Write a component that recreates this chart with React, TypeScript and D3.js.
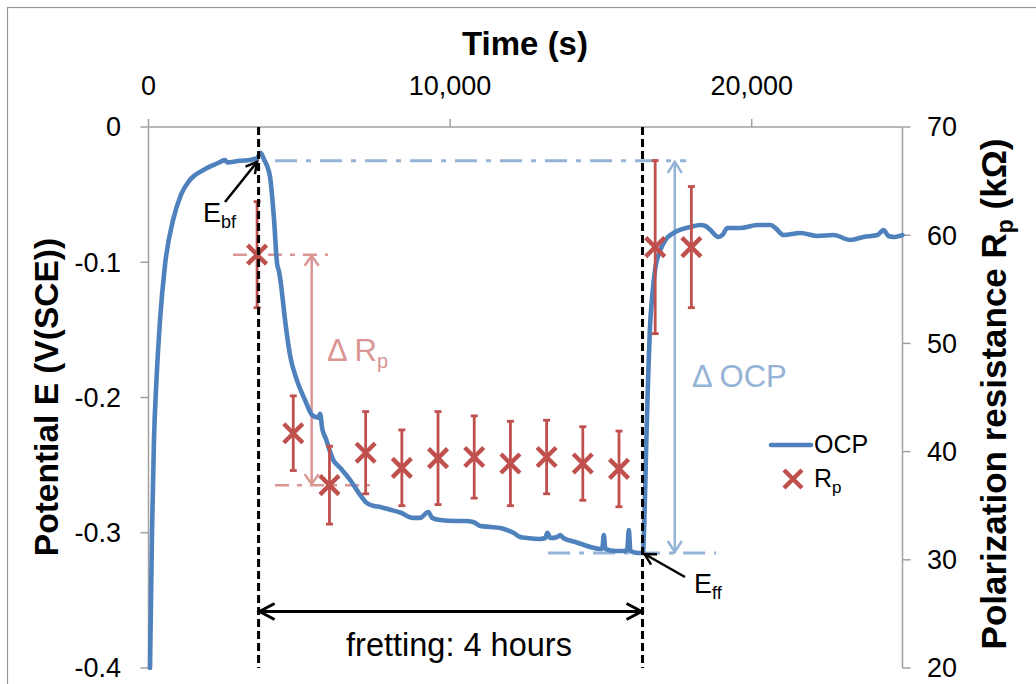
import React from "react";
import * as d3 from "d3";

// ---------- data ----------
const X_TICKS = [0, 10000, 20000];
const E_TICKS = [0, -0.1, -0.2, -0.3, -0.4];
const R_TICKS = [70, 60, 50, 40, 30, 20];

const OCP_T = [
  50, 83, 116, 182, 265, 382, 547, 813, 1078, 1377, 1808, 2273, 2538, 2620, 2704, 3036, 3368, 3600, 3716, 3832,
  4031, 4164, 4263, 4330, 4396, 4529, 4695, 4917, 5193, 5425, 5624, 5690, 5757, 5890, 6122, 6354, 6686, 7018,
  7240, 7449, 7681, 8013, 8345, 8776, 9009, 9274, 9407, 9673, 10170, 10502, 10768, 11000, 11332, 11664, 12095,
  12327, 12559, 12991, 13157, 13223, 13323, 13555, 13655, 13754, 14152, 14650, 14981, 15048, 15097, 15147, 15479,
  15811, 15877, 15927, 15976, 16241, 16391, 16441, 16507, 16574, 16623, 16706, 16806, 16972, 17138, 17403, 17967,
  18299, 18465, 18631, 18897, 19029, 19195, 19626, 20190, 20621, 20787, 21053, 21617, 22181, 22712, 23276, 23707,
  24172, 24371, 24537, 24703, 25000,
];
const OCP_E = [
  -0.4, -0.35, -0.3, -0.231, -0.187, -0.143, -0.102, -0.069, -0.05, -0.039, -0.032, -0.027, -0.0245, -0.0262, -0.026,
  -0.025, -0.0244, -0.023, -0.019, -0.024, -0.037, -0.069, -0.101, -0.107, -0.117, -0.143, -0.169, -0.187, -0.202,
  -0.213, -0.215, -0.212, -0.2226, -0.231, -0.246, -0.252, -0.261, -0.272, -0.278, -0.28, -0.281, -0.283, -0.285,
  -0.289, -0.289, -0.2847, -0.289, -0.2906, -0.2913, -0.2913, -0.292, -0.295, -0.2957, -0.2965, -0.3, -0.3031,
  -0.3039, -0.3046, -0.3039, -0.3, -0.3039, -0.3031, -0.3017, -0.3039, -0.3068, -0.3105, -0.312, -0.3113, -0.3017,
  -0.312, -0.3135, -0.3135, -0.3113, -0.298, -0.3135, -0.315, -0.315, -0.2906, -0.231, -0.1797, -0.15, -0.124,
  -0.104, -0.091, -0.0835, -0.0784, -0.0739, -0.0725, -0.0732, -0.0762, -0.0813, -0.0799, -0.0747, -0.0747, -0.0725,
  -0.0725, -0.0747, -0.0799, -0.0784, -0.0806, -0.0799, -0.0835, -0.0813, -0.0799, -0.0762, -0.0806, -0.0813, -0.0799,
];

const RP_T = [3600, 4800, 6000, 7200, 8400, 9600, 10800, 12000, 13200, 14400, 15600, 16800, 18000];
const RP_V = [58.2, 41.7, 36.9, 39.9, 38.5, 39.4, 39.5, 38.9, 39.5, 38.9, 38.4, 58.9, 58.9];
const RP_ERR = [4.9, 3.45, 3.6, 3.8, 3.5, 4.3, 3.8, 3.9, 3.4, 3.4, 3.5, 8.0, 5.6];

// annotation anchors (data units)
const FRET_START = 3650;
const FRET_END = 16380;
const E_BEFORE = -0.025;
const E_AFTER = -0.315;

// ---------- styles ----------
const FONT = "'Liberation Sans', Arial, sans-serif";
const BLUE = "#4f81bd";
const RED = "#c0504d";
const LIGHT_BLUE = "#95b3d7";
const PINK = "#d99694";
const AXIS = "#a0a0a0";

const chevron = (tx: number, ty: number, dx: number, dy: number, L: number, W: number) => {
  const n = Math.hypot(dx, dy);
  const ux = dx / n, uy = dy / n;
  const bx = tx - ux * L, by = ty - uy * L;
  const px = -uy, py = ux;
  return `M${bx + px * W},${by + py * W}L${tx},${ty}L${bx - px * W},${by - py * W}`;
};

export default function App() {
  const x = d3.scaleLinear().domain([0, 25000]).range([148.5, 902.5]);
  const yE = d3.scaleLinear().domain([-0.4, 0]).range([668, 127]);
  const yR = d3.scaleLinear().domain([20, 70]).range([668, 127]);
  const left = x(0), right = x(25000), top = yE(0), bottom = yE(-0.4);

  const ocp = OCP_T.map((t, i) => [t, OCP_E[i]] as [number, number]);
  const line = d3
    .line<[number, number]>()
    .x((d) => x(d[0]))
    .y((d) => yE(d[1]))
    .curve(d3.curveMonotoneX);
  const fmtX = d3.format(",");
  const fmtE = (v: number) => (v === 0 ? "0" : v.toFixed(1));

  const xs = x(FRET_START), xe = x(FRET_END);
  const yBf = yE(E_BEFORE), yFf = yE(E_AFTER);
  const yR0 = yR(RP_V[0]), yR2 = yR(RP_V[2]);
  const xOcpArrow = x(17450);
  const xRpArrow = x(5410);
  const fretY = 611.5;

  const xMark = (cx: number, cy: number, s: number) => `M${cx - s},${cy - s}L${cx + s},${cy + s}M${cx - s},${cy + s}L${cx + s},${cy - s}`;

  return (
    <svg
      width={1036}
      height={684}
      style={{ position: "absolute", left: 0, top: 0, background: "#fff" }}
      fontFamily={FONT}
    >
      <rect x={7.5} y={7.5} width={1100} height={800} fill="#fff" stroke="#999" strokeWidth={1.2} />

      {/* title */}
      <text x={525} y={55} textAnchor="middle" fontSize={33} fontWeight="bold">Time (s)</text>

      {/* top axis */}
      <line x1={left} x2={right} y1={top} y2={top} stroke={AXIS} strokeWidth={1.5} />
      {X_TICKS.map((t) => (
        <g key={t}>
          <line x1={x(t)} x2={x(t)} y1={top} y2={top - 8} stroke={AXIS} strokeWidth={1.5} />
          <text x={x(t)} y={95} textAnchor="middle" fontSize={27}>{fmtX(t)}</text>
        </g>
      ))}

      {/* left axis */}
      <line x1={left} x2={left} y1={top} y2={bottom} stroke={AXIS} strokeWidth={1.5} />
      {E_TICKS.map((v) => (
        <g key={v}>
          <line x1={left - 8} x2={left} y1={yE(v)} y2={yE(v)} stroke={AXIS} strokeWidth={1.5} />
          <text x={121} y={yE(v)} dy="0.35em" textAnchor="end" fontSize={27}>{fmtE(v)}</text>
        </g>
      ))}
      <text transform={`translate(58,397) rotate(-90)`} textAnchor="middle" fontSize={33.5} fontWeight="bold">
        Potential E (V(SCE))
      </text>

      {/* right axis */}
      <line x1={right} x2={right} y1={top} y2={bottom} stroke={AXIS} strokeWidth={1.5} />
      {R_TICKS.map((v) => (
        <g key={v}>
          <line x1={right} x2={right + 8} y1={yR(v)} y2={yR(v)} stroke={AXIS} strokeWidth={1.5} />
          <text x={927} y={yR(v)} dy="0.35em" textAnchor="start" fontSize={27}>{v}</text>
        </g>
      ))}
      <text transform={`translate(1006,394) rotate(-90)`} textAnchor="middle" fontSize={35} fontWeight="bold">
        Polarization resistance R<tspan fontSize={23} dy={7}>p</tspan><tspan dy={-7}> (kΩ)</tspan>
      </text>

      {/* guide lines */}
      <line x1={x(4195)} x2={x(17830)} y1={yBf} y2={yBf} stroke={LIGHT_BLUE} strokeWidth={3} strokeDasharray="22,9,5,9" />
      <line x1={x(13250)} x2={x(18820)} y1={yFf} y2={yFf} stroke={LIGHT_BLUE} strokeWidth={3} strokeDasharray="22,9,5,9" />
      <line x1={x(2800)} x2={x(5950)} y1={yR0} y2={yR0} stroke={PINK} strokeWidth={2.5} strokeDasharray="14,8,5,8" />
      <line x1={x(4195)} x2={x(7345)} y1={yR2} y2={yR2} stroke={PINK} strokeWidth={2.5} strokeDasharray="14,8,5,8" />

      {/* ΔRp arrow */}
      <line x1={xRpArrow} x2={xRpArrow} y1={yR0 + 1} y2={yR2 - 1} stroke={PINK} strokeWidth={2.5} />
      <path d={chevron(xRpArrow, yR0 + 1, 0, -1, 10, 7)} fill="none" stroke={PINK} strokeWidth={2.5} />
      <path d={chevron(xRpArrow, yR2 - 1, 0, 1, 10, 7)} fill="none" stroke={PINK} strokeWidth={2.5} />

      {/* ΔOCP arrow */}
      <line x1={xOcpArrow} x2={xOcpArrow} y1={yBf + 1} y2={yFf - 1} stroke={LIGHT_BLUE} strokeWidth={2.5} />
      <path d={chevron(xOcpArrow, yBf + 1, 0, -1, 11, 7)} fill="none" stroke={LIGHT_BLUE} strokeWidth={2.5} />
      <path d={chevron(xOcpArrow, yFf - 1, 0, 1, 11, 7)} fill="none" stroke={LIGHT_BLUE} strokeWidth={2.5} />

      {/* OCP curve */}
      <path d={line(ocp) || ""} fill="none" stroke={BLUE} strokeWidth={4.6} strokeLinejoin="round" strokeLinecap="round" />

      {/* Rp points with error bars */}
      {RP_T.map((t, i) => {
        const cx = x(t);
        const y1 = yR(RP_V[i] + RP_ERR[i]);
        const y2 = yR(RP_V[i] - RP_ERR[i]);
        return (
          <g key={t} stroke={RED}>
            <line x1={cx} x2={cx} y1={y1} y2={y2} strokeWidth={2.8} />
            <line x1={cx - 3.5} x2={cx + 3.5} y1={y1} y2={y1} strokeWidth={2.8} />
            <line x1={cx - 3.5} x2={cx + 3.5} y1={y2} y2={y2} strokeWidth={2.8} />
            <path d={xMark(cx, yR(RP_V[i]), 9.5)} strokeWidth={4.4} fill="none" />
          </g>
        );
      })}

      {/* dashed fretting boundaries */}
      <line x1={xs} x2={xs} y1={top} y2={bottom} stroke="#000" strokeWidth={3} strokeDasharray="8,4" />
      <line x1={xe} x2={xe} y1={top} y2={bottom} stroke="#000" strokeWidth={3} strokeDasharray="8,4" />

      {/* fretting arrow */}
      <line x1={xs + 1} x2={xe - 1} y1={fretY} y2={fretY} stroke="#000" strokeWidth={3} />
      <path d={chevron(xs + 1, fretY, -1, 0, 15, 8)} fill="none" stroke="#000" strokeWidth={3} />
      <path d={chevron(xe - 1, fretY, 1, 0, 15, 8)} fill="none" stroke="#000" strokeWidth={3} />
      <text x={459} y={656} textAnchor="middle" fontSize={32.5}>fretting: 4 hours</text>

      {/* E_bf annotation */}
      <line x1={225} y1={202} x2={x(3600)} y2={yBf + 1} stroke="#000" strokeWidth={2.5} />
      <path d={chevron(x(3600), yBf + 1, 257 - 225, yBf + 1 - 202, 11, 6)} fill="none" stroke="#000" strokeWidth={2.5} />
      <text x={203} y={222} fontSize={27}>
        E<tspan fontSize={18} dy={6}>bf</tspan>
      </text>

      {/* E_ff annotation */}
      <line x1={685} y1={577} x2={xe + 2} y2={yFf + 1} stroke="#000" strokeWidth={2.5} />
      <path d={chevron(xe + 2, yFf + 1, xe + 2 - 685, yFf + 1 - 577, 11, 6)} fill="none" stroke="#000" strokeWidth={2.5} />
      <text x={694} y={593} fontSize={27}>
        E<tspan fontSize={18} dy={6}>ff</tspan>
      </text>

      {/* delta labels */}
      <text x={692} y={387} fontSize={31} fill={LIGHT_BLUE}>Δ OCP</text>
      <text x={327} y={361} fontSize={31} fill={PINK}>
        Δ R<tspan fontSize={20} dy={7}>p</tspan>
      </text>

      {/* legend */}
      <line x1={771} x2={811} y1={445} y2={445} stroke={BLUE} strokeWidth={4.6} strokeLinecap="round" />
      <text x={814} y={453} fontSize={25}>OCP</text>
      <path d={xMark(793, 479, 9)} stroke={RED} strokeWidth={4.4} fill="none" />
      <text x={814} y={487} fontSize={25}>
        R<tspan fontSize={17} dy={6}>p</tspan>
      </text>
    </svg>
  );
}
